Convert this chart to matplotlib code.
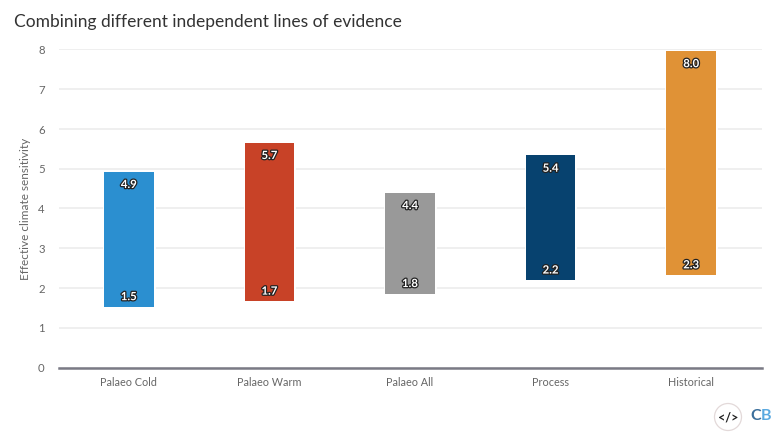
import matplotlib
matplotlib.use('Agg')
import matplotlib.pyplot as plt
import matplotlib.patheffects as pe
from matplotlib.patches import Ellipse

categories = ['Palaeo Cold', 'Palaeo Warm', 'Palaeo All', 'Process', 'Historical']
low = [1.53, 1.67, 1.86, 2.2, 2.33]
high = [4.93, 5.66, 4.4, 5.34, 7.97]
low_labels = ['1.5', '1.7', '1.8', '2.2', '2.3']
high_labels = ['4.9', '5.7', '4.4', '5.4', '8.0']
colors = ['#2b8fd0', '#c84227', '#999999', '#07426f', '#e09236']
yticks = [0, 1, 2, 3, 4, 5, 6, 7, 8]

plt.rcParams['font.family'] = ['Lato', 'DejaVu Sans']

W, H = 780, 444
fig = plt.figure(figsize=(W / 100, H / 100), dpi=100)
ax = fig.add_axes([58.5 / W, 1 - 367.5 / H, 703 / W, (367.5 - 49.5) / H])

heights = [h - l for h, l in zip(high, low)]
# white halo cuts the gridlines either side of the bars
ax.bar(range(5), heights, bottom=low, width=0.352, color='white',
       edgecolor='white', linewidth=2, zorder=2)
ax.bar(range(5), heights, bottom=low, width=0.352, color=colors, zorder=3)

outline = [pe.withStroke(linewidth=1.8, foreground='#222222')]
for i in range(5):
    ax.annotate(high_labels[i], (i, high[i]), xytext=(0, -13), textcoords='offset pixels',
                ha='center', va='center', fontsize=8.2, fontweight='bold', color='white',
                path_effects=outline, zorder=4)
    ax.annotate(low_labels[i], (i, low[i]), xytext=(0, 10), textcoords='offset pixels',
                ha='center', va='center', fontsize=8.2, fontweight='bold', color='white',
                path_effects=outline, zorder=4)

ax.set_xlim(-0.5, 4.5)
ax.set_ylim(0, 8)
ax.set_yticks(yticks)
ax.set_xticks(range(5))
ax.set_xticklabels(categories)
ax.grid(axis='y', color='#ebebeb', linewidth=1.1, zorder=0)
ax.set_axisbelow(True)
for s in ['top', 'right', 'left']:
    ax.spines[s].set_visible(False)
ax.spines['bottom'].set_color('#7a7a85')
ax.spines['bottom'].set_linewidth(1.8)
ax.spines['bottom'].set_zorder(5)
ax.tick_params(axis='both', length=0, labelsize=7.8, labelcolor='#666666')
ax.tick_params(axis='x', pad=7)
ax.tick_params(axis='y', pad=10)
for t in ax.get_yticklabels():
    t.set_fontsize(8.2)

fig.text(25.5 / W, 1 - 209 / H, 'Effective climate sensitivity', rotation=90, ha='center',
         va='center', fontsize=8.5, color='#666666')
fig.text(14 / W, 1 - 22 / H, 'Combining different independent lines of evidence', ha='left',
         va='center', fontsize=12.5, color='#333333')

# logo
fig.add_artist(Ellipse((728 / W, 1 - 417 / H), 27 / W, 27 / H, transform=fig.transFigure,
                       facecolor='white', edgecolor='#e3d9d9', linewidth=0.9))
fig.text(728 / W, 1 - 417 / H, '</>', ha='center', va='center', fontsize=9,
         fontweight='bold', color='#222222')
fig.text(750 / W, 1 - 416 / H, 'C', ha='left', va='center', fontsize=11.5, fontweight='bold',
         color='#3b6f9c')
fig.text(761 / W, 1 - 416 / H, 'B', ha='left', va='center', fontsize=11.5, fontweight='bold',
         color='#5aa9e0')

fig.savefig('out.png', dpi=100)
plt.close()
